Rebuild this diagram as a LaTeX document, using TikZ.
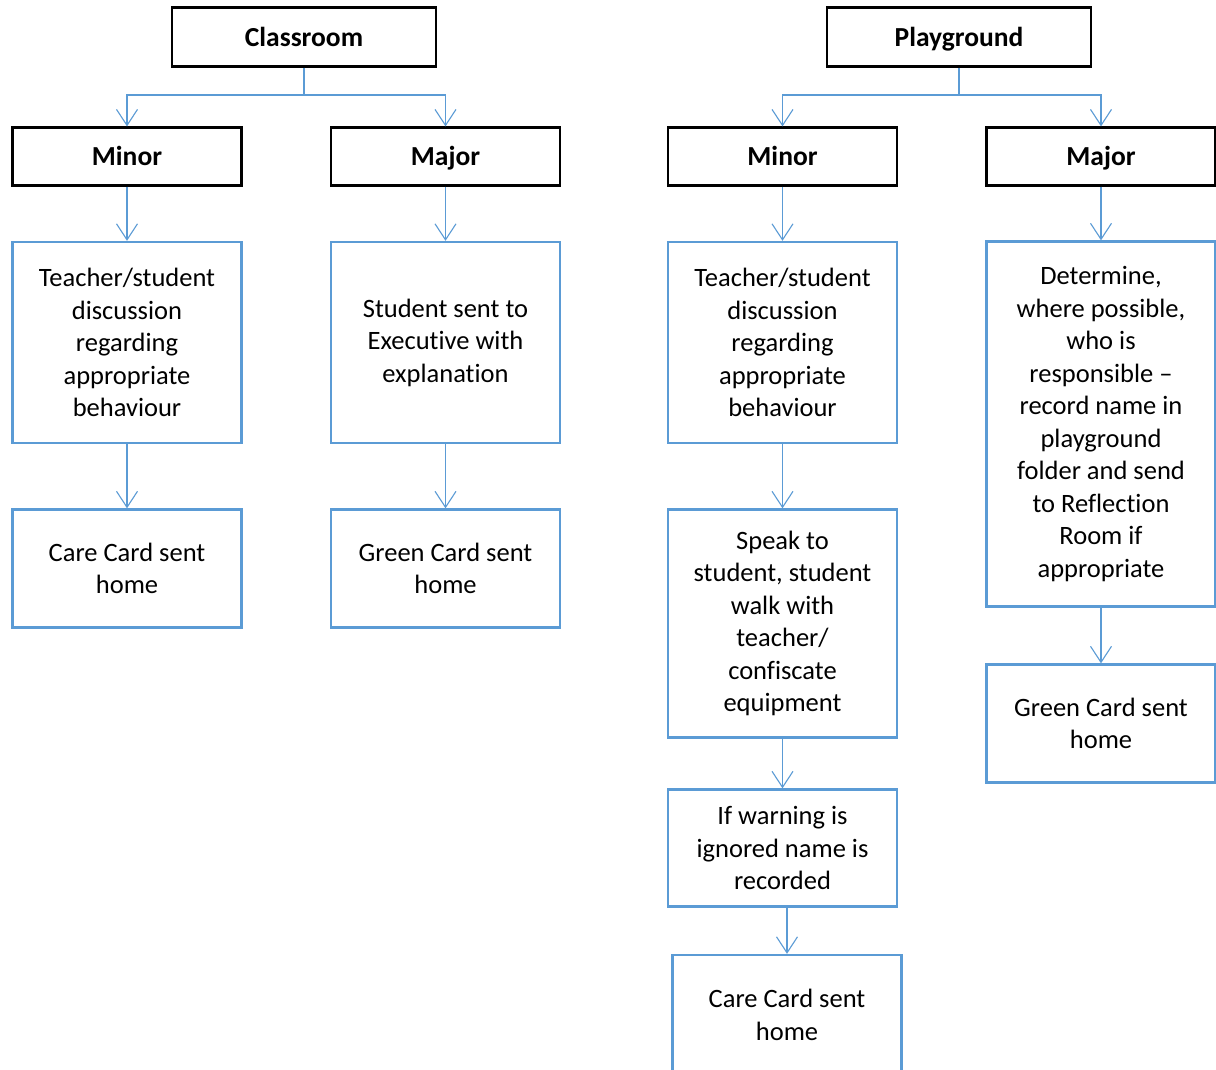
\documentclass[tikz,border=0pt]{standalone}
\usepackage{fontspec}
\setmainfont{Carlito}[Ligatures=NoCommon]
\usetikzlibrary{arrows.meta,calc}
\definecolor{flowblue}{HTML}{5B9BD5}
\begin{document}
\begin{tikzpicture}[x=1pt,y=-1pt,
  head/.style={draw=black,line width=2.2pt,minimum width=264pt,minimum height=59pt,inner sep=0pt,
    text height=20pt,text depth=2pt,font=\fontsize{27.5}{32.5}\selectfont\bfseries},
  level/.style={draw=black,line width=2.2pt,minimum width=229pt,minimum height=58pt,inner sep=0pt,
    text height=20pt,text depth=2pt,font=\fontsize{27.5}{32.5}\selectfont\bfseries},
  stepbox/.style={draw=flowblue,line width=2.4pt,minimum width=229pt,inner sep=0pt,align=center,
    font=\fontsize{26.5}{32.5}\selectfont},
  arr/.style={draw=flowblue,line width=1.3pt,-{Straight Barb[length=16pt,width=21pt,line width=1.1pt]}},
]
\useasboundingbox (0,0) rectangle (1216,1069);
\clip (0,0) rectangle (1216,1069);
\fill[white] (0,0) rectangle (1216,1069);

% Classroom branch
\node[head] (class) at (304,37) {Classroom};
\node[level] (cmin) at (127,156.5) {Minor};
\node[level] (cmaj) at (445.5,156.5) {Major};
\node[stepbox,minimum height=201pt] (cdisc) at (127,342.5) {Teacher/student\\discussion\\regarding\\appropriate\\behaviour};
\node[stepbox,minimum height=201pt] (cexec) at (445.5,342.5) {Student sent to\\Executive with\\explanation};
\node[stepbox,minimum height=118pt] (ccare) at (127,568.5) {Care Card sent\\home};
\node[stepbox,minimum height=118pt] (cgreen) at (445.5,568.5) {Green Card sent\\home};

\coordinate (cbus) at (304,95);
\draw[arr] (class.south) -- (cbus) -| (cmin.north);
\draw[arr] (cbus) -| (cmaj.north);
\draw[arr] (cmin.south) -- (cdisc.north);
\draw[arr] (cmaj.south) -- (cexec.north);
\draw[arr] (cdisc.south) -- (ccare.north);
\draw[arr] (cexec.south) -- (cgreen.north);

% Playground branch
\node[head] (play) at (959,37) {Playground};
\node[level] (pmin) at (782.5,156.5) {Minor};
\node[level] (pmaj) at (1101,156.5) {Major};
\node[stepbox,minimum height=201pt] (pdisc) at (782.5,342.5) {Teacher/student\\discussion\\regarding\\appropriate\\behaviour};
\node[stepbox,minimum height=365pt] (pdet) at (1101,424) {Determine,\\where possible,\\who is\\responsible –\\record name in\\playground\\folder and send\\to Reflection\\Room if\\appropriate};
\node[stepbox,minimum height=228pt] (pspeak) at (782.5,623.5) {Speak to\\student, student\\walk with\\teacher/\\confiscate\\equipment};
\node[stepbox,minimum height=117pt] (pwarn) at (782.5,848) {If warning is\\ignored name is\\recorded};
\node[stepbox,minimum height=120pt] (pcare) at (787,1015) {Care Card sent\\home};
\node[stepbox,minimum height=118pt] (pgreen) at (1101,723.5) {Green Card sent\\home};

\coordinate (pbus) at (959,95);
\draw[arr] (play.south) -- (pbus) -| (pmin.north);
\draw[arr] (pbus) -| (pmaj.north);
\draw[arr] (pmin.south) -- (pdisc.north);
\draw[arr] (pmaj.south) -- (pdet.north);
\draw[arr] (pdisc.south) -- (pspeak.north);
\draw[arr] (pspeak.south) -- (pwarn.north);
\draw[arr] (pwarn.south -| pcare.north) -- (pcare.north);
\draw[arr] (pdet.south) -- (pgreen.north);
\end{tikzpicture}
\end{document}
